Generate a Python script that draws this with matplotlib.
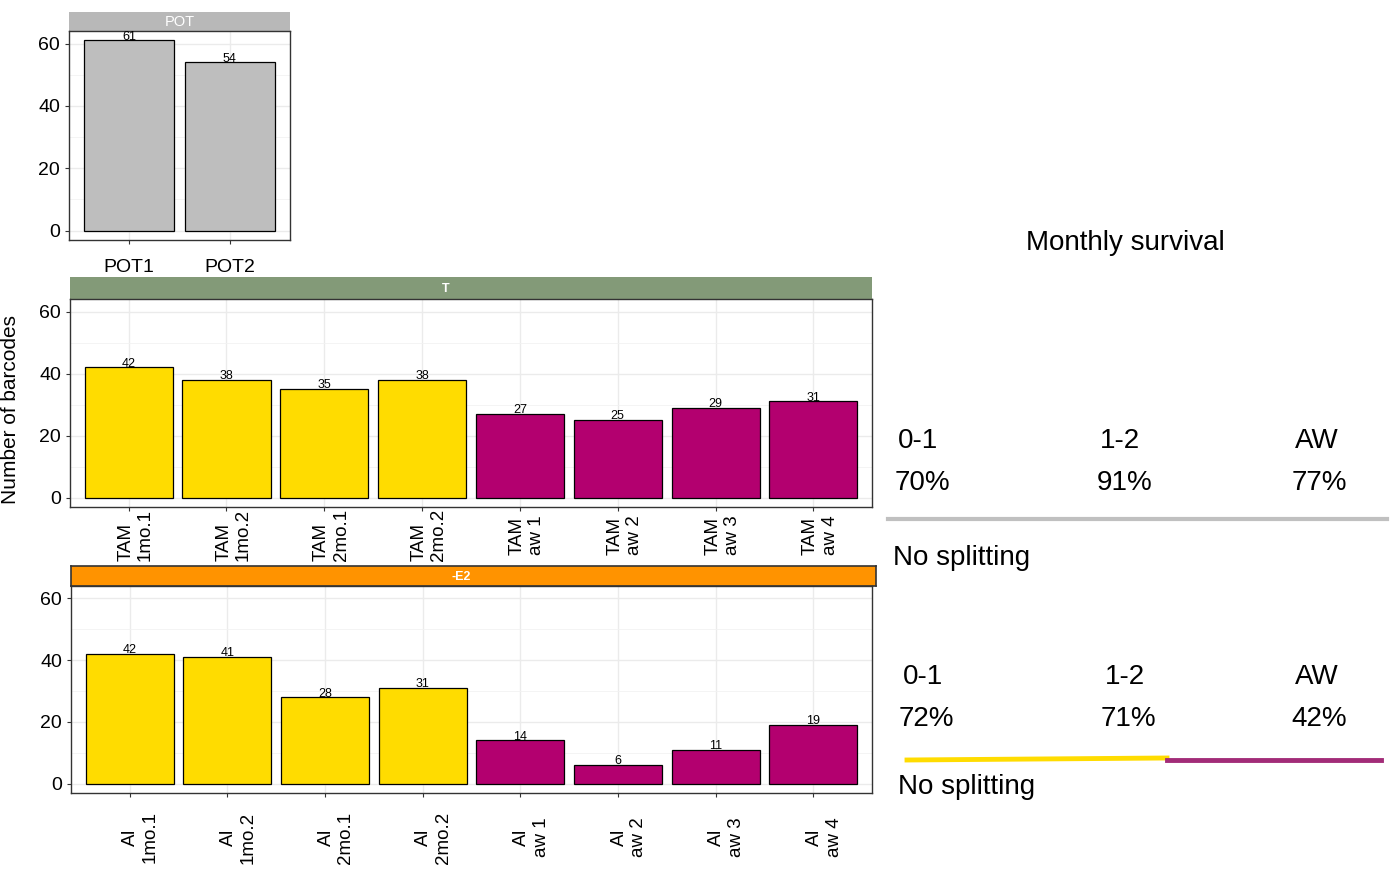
import matplotlib
matplotlib.use("Agg")
from matplotlib import pyplot as plt
from matplotlib.lines import Line2D
from matplotlib.transforms import ScaledTranslation

plt.rcParams['font.family'] = ['Liberation Sans', 'DejaVu Sans']

W, H = 1390, 874

# data
pot_labels = ['POT1', 'POT2']
pot_counts = [61, 54]

tam_labels = ['TAM\n1mo.1', 'TAM\n1mo.2', 'TAM\n2mo.1', 'TAM\n2mo.2',
              'TAM\naw 1', 'TAM\naw 2', 'TAM\naw 3', 'TAM\naw 4']
tam_counts = [42, 38, 35, 38, 27, 25, 29, 31]

ai_labels = ['AI\n1mo.1', 'AI\n1mo.2', 'AI\n2mo.1', 'AI\n2mo.2',
             'AI\naw 1', 'AI\naw 2', 'AI\naw 3', 'AI\naw 4']
ai_counts = [42, 41, 28, 31, 14, 6, 11, 19]

phase = ['mo', 'mo', 'mo', 'mo', 'aw', 'aw', 'aw', 'aw']

periods = ['0-1', '1-2', 'AW']
tam_survival = ['70%', '91%', '77%']
ai_survival = ['72%', '71%', '42%']

YELLOW = '#FFDC00'
PURPLE = '#B3006F'
GREY = '#BEBEBE'
phase_colors = {'mo': YELLOW, 'aw': PURPLE}


def box(x0, y0, x1, y1):
    # pixel box (top-left origin) -> figure fraction rect
    return [x0 / W, 1 - y1 / H, (x1 - x0) / W, (y1 - y0) / H]


def pt(x, y):
    return x / W, 1 - y / H


fig = plt.figure(figsize=(W / 100, H / 100), dpi=100)


def strip(rect, text, color, tx=0.5, bold=True, size=9, edge=None):
    sax = fig.add_axes(rect)
    sax.set_facecolor(color)
    sax.set_xticks([])
    sax.set_yticks([])
    for s in sax.spines.values():
        s.set_visible(edge is not None)
        if edge is not None:
            s.set_edgecolor(edge)
            s.set_linewidth(1.2)
    sax.text(tx, 0.45, text, color='white', ha='center', va='center',
             fontsize=size, fontweight='bold' if bold else 'normal',
             transform=sax.transAxes)


def bar_panel(rect, labels, counts, colors, rot=False, pad=4, multi='center',
              tick_size=14, shift=0):
    ax = fig.add_axes(rect)
    x = list(range(1, len(counts) + 1))
    ax.bar(x, counts, width=0.9, color=colors, edgecolor='black', linewidth=0.9, zorder=3)
    for xi, c in zip(x, counts):
        ax.text(xi, c + 0.2, str(c), ha='center', va='baseline', fontsize=9, zorder=4)
    ax.set_xlim(0.4, len(counts) + 0.6)
    ax.set_ylim(-3.05, 64.05)
    ax.set_yticks([0, 20, 40, 60])
    ax.set_yticks([10, 30, 50], minor=True)
    ax.set_xticks(x)
    ax.set_xticklabels(labels)
    ax.grid(True, which='major', color='#EBEBEB', linewidth=1.0, zorder=0)
    ax.grid(True, which='minor', axis='y', color='#F2F2F2', linewidth=0.6, zorder=0)
    ax.tick_params(axis='both', which='major', length=3, color='#333333',
                   labelsize=14, labelcolor='black')
    ax.tick_params(axis='y', which='minor', length=0)
    ax.tick_params(axis='x', pad=pad, labelsize=tick_size)
    if rot:
        offset = ScaledTranslation(shift / 100, 0, fig.dpi_scale_trans)
        for lab in ax.get_xticklabels():
            lab.set_rotation(90)
            lab.set_va('center')
            lab.set_ha('center')
            lab.set_multialignment(multi)
            lab.set_transform(lab.get_transform() + offset)
    for s in ax.spines.values():
        s.set_edgecolor('#333333')
        s.set_linewidth(1.0)
    return ax


# POT panel
strip(box(69, 12, 290, 31), 'POT', '#B8B8B8', bold=False, size=10.5)
bar_panel(box(69, 31, 290, 240), pot_labels, pot_counts, [GREY, GREY], pad=11)

# T panel
strip(box(70, 277, 872, 299), 'T', '#839A78', tx=0.469)
bar_panel(box(70, 299, 872, 507), tam_labels, tam_counts,
          [phase_colors[p] for p in phase], rot=True, pad=17, multi='left',
          tick_size=13.5, shift=7)

# -E2 panel
strip(box(71, 566, 876, 586), '-E2', '#FF9300', tx=0.485, edge='#333333')
bar_panel(box(71, 586, 872, 793), ai_labels, ai_counts,
          [phase_colors[p] for p in phase], rot=True, pad=29, multi='center',
          tick_size=13.5, shift=11)

fig.text(*pt(11, 410), 'Number of barcodes', rotation=90, ha='center', va='center', fontsize=15)

# survival annotations
fig.text(*pt(1125, 243), 'Monthly survival', ha='center', va='center', fontsize=20)

col_x = [898, 1100, 1295]
for px_, per, val in zip(col_x, periods, tam_survival):
    fig.text(*pt(px_, 441), per, ha='left', va='center', fontsize=20)
    fig.text(*pt(px_ - 3, 483), val, ha='left', va='center', fontsize=20)
fig.add_artist(Line2D([888 / W, 1387 / W], [1 - 519 / H, 1 - 519 / H],
                      color='#C0C0C0', linewidth=3, transform=fig.transFigure))
fig.text(*pt(893, 558), 'No splitting', ha='left', va='center', fontsize=20)

col_x2 = [903, 1105, 1295]
for px_, per, val in zip(col_x2, periods, ai_survival):
    fig.text(*pt(px_, 677), per, ha='left', va='center', fontsize=20)
    fig.text(*pt(px_ - 4, 719), val, ha='left', va='center', fontsize=20)
fig.add_artist(Line2D([907 / W, 1167 / W], [1 - 760 / H, 1 - 758 / H],
                      color=YELLOW, linewidth=3.5, transform=fig.transFigure))
fig.add_artist(Line2D([1167 / W, 1381 / W], [1 - 759.5 / H, 1 - 759.5 / H],
                      color='#A22C78', linewidth=3.5, transform=fig.transFigure))
fig.text(*pt(898, 787), 'No splitting', ha='left', va='center', fontsize=20)

fig.savefig('out.png', dpi=100)
